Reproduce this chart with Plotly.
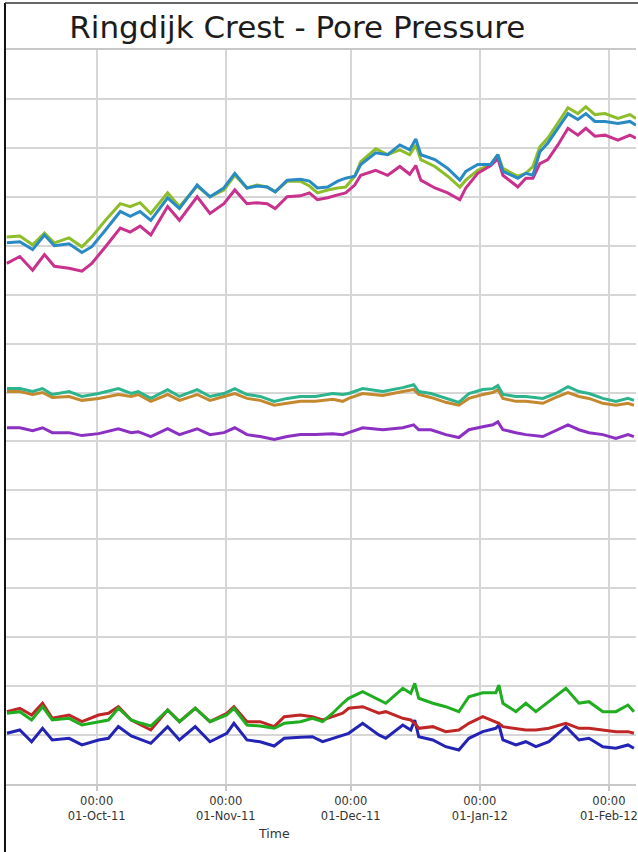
import plotly.graph_objects as go

# ---------------- data ----------------
top_dates = ["2011-09-09 10:00","2011-09-12 13:00","2011-09-15 15:00","2011-09-18 11:00","2011-09-20 20:00","2011-09-24 09:00","2011-09-27 11:00","2011-09-29 20:00",
 "2011-10-03 03:00","2011-10-06 16:00","2011-10-09 01:00","2011-10-11 10:00","2011-10-14 00:00","2011-10-18 01:00","2011-10-20 21:00","2011-10-25 03:00","2011-10-28 05:00","2011-10-31 13:00",
 "2011-11-03 04:00","2011-11-06 02:00","2011-11-08 12:00","2011-11-10 22:00","2011-11-12 21:00","2011-11-15 18:00","2011-11-18 22:00","2011-11-21 02:00","2011-11-23 00:00","2011-11-25 11:00","2011-11-27 21:00","2011-11-29 19:00",
 "2011-12-01 23:00","2011-12-03 10:00","2011-12-07 00:00","2011-12-09 21:00","2011-12-12 19:00","2011-12-15 04:00","2011-12-16 15:00","2011-12-17 20:00","2011-12-21 05:00","2011-12-24 07:00","2011-12-27 05:00","2011-12-28 15:00","2011-12-31 12:00",
 "2012-01-03 15:00","2012-01-05 08:00","2012-01-06 13:00","2012-01-10 03:00","2012-01-12 01:00","2012-01-13 18:00","2012-01-15 10:00","2012-01-17 08:00","2012-01-19 18:00","2012-01-22 04:00","2012-01-24 13:00","2012-01-26 11:00","2012-01-28 15:00","2012-01-31 01:00",
 "2012-02-03 04:00","2012-02-06 01:00","2012-02-07 12:00"]

top_green = [55.9,56.0,55.1,56.3,55.3,55.8,54.9,55.9,
 57.6,59.3,59.0,59.4,58.3,60.4,59.0,61.1,60.0,60.7,
 62.2,60.9,61.2,61.0,60.5,61.6,61.6,61.1,60.4,60.7,60.9,61.0,
 62.1,63.6,64.9,64.3,64.8,64.3,65.3,63.8,63.1,62.1,61.0,61.7,62.7,
 63.3,64.3,62.9,62.1,62.4,63.1,65.1,66.0,67.5,69.1,68.5,69.2,68.4,68.5,
 68.0,68.4,68.0]

top_blue = [55.3,55.4,54.6,56.1,55.0,55.2,54.3,54.9,
 56.6,58.5,58.0,58.5,57.6,59.9,58.8,61.2,60.0,60.9,
 62.4,60.9,61.1,61.0,60.5,61.7,61.8,61.6,60.9,61.0,61.6,61.9,
 62.1,63.3,64.5,64.3,65.3,64.8,65.9,64.3,63.8,62.9,61.7,62.6,63.3,
 63.3,64.3,62.6,61.9,62.4,62.2,64.6,65.5,67.0,68.5,67.9,68.5,67.7,67.7,
 67.5,67.7,67.3]

top_magenta = [53.2,53.9,52.5,54.1,52.9,52.7,52.4,53.2,
 54.9,56.8,56.4,57.0,56.1,59.0,57.6,60.0,58.3,59.3,
 60.7,59.3,59.4,59.3,58.8,60.0,60.1,60.4,59.7,59.9,60.2,60.4,
 61.2,62.2,62.7,62.2,63.1,62.3,63.2,61.7,60.9,60.4,59.7,60.9,62.4,
 63.2,63.9,62.2,61.0,61.9,61.9,63.4,63.8,65.3,67.0,66.3,67.0,66.2,66.3,
 65.8,66.3,66.0]

mid_dates = ["2011-09-09 11:00","2011-09-12 13:00","2011-09-15 15:00","2011-09-18 00:00","2011-09-20 08:00","2011-09-24 09:00","2011-09-27 11:00","2011-10-01 11:00","2011-10-06 05:00","2011-10-09 07:00","2011-10-10 23:00","2011-10-14 00:00","2011-10-18 01:00","2011-10-20 21:00","2011-10-25 03:00","2011-10-28 05:00","2011-10-31 13:00","2011-11-03 04:00","2011-11-06 02:00","2011-11-09 06:00","2011-11-12 15:00","2011-11-15 18:00","2011-11-18 22:00","2011-11-22 13:00",
 "2011-11-26 16:00","2011-11-29 02:00","2011-11-30 12:00","2011-12-03 21:00","2011-12-08 17:00","2011-12-13 12:00","2011-12-16 03:00","2011-12-17 08:00","2011-12-20 06:00","2011-12-23 20:00","2011-12-26 23:00","2011-12-29 09:00","2012-01-01 17:00","2012-01-04 03:00","2012-01-05 08:00","2012-01-06 13:00","2012-01-09 16:00","2012-01-12 01:00","2012-01-16 03:00","2012-01-19 06:00","2012-01-22 04:00","2012-01-24 19:00","2012-01-27 05:00","2012-01-30 13:00","2012-02-02 16:00","2012-02-05 14:00","2012-02-07 00:00"]

mid_teal = [40.4,40.4,40.1,40.4,39.8,40.1,39.6,39.9,40.4,39.9,40.1,39.4,40.3,39.6,40.3,39.6,39.9,40.4,39.8,39.6,39.1,39.4,39.6,39.6,
 39.9,39.8,39.9,40.4,40.1,40.5,40.8,40.1,39.9,39.4,39.0,39.9,40.3,40.4,40.7,39.8,39.6,39.6,39.4,39.9,40.6,40.1,39.9,39.4,39.1,39.4,39.2]

mid_brown = [40.1,40.1,39.8,40.0,39.5,39.6,39.2,39.4,39.8,39.6,39.8,39.1,39.8,39.2,39.8,39.2,39.6,39.9,39.4,39.2,38.7,38.9,39.1,39.1,
 39.3,39.1,39.4,39.9,39.7,40.1,40.3,39.8,39.5,39.0,38.7,39.4,39.8,40.0,40.3,39.4,39.1,39.1,38.9,39.5,40.0,39.6,39.4,38.9,38.7,38.9,38.7]

mid_purple = [36.4,36.4,36.1,36.4,35.9,35.9,35.6,35.8,36.3,35.9,36.0,35.5,36.3,35.7,36.3,35.7,35.9,36.4,35.7,35.5,35.2,35.5,35.7,35.7,
 35.8,35.7,35.9,36.4,36.2,36.4,36.7,36.2,36.2,35.7,35.4,36.2,36.5,36.7,37.0,36.2,35.9,35.7,35.5,36.1,36.7,36.2,35.9,35.7,35.3,35.7,35.5]

bot_dates = ["2011-09-09 11:00","2011-09-12 13:00","2011-09-15 09:00","2011-09-18 00:00","2011-09-20 08:00","2011-09-24 09:00","2011-09-27 11:00","2011-10-01 11:00","2011-10-03 20:00","2011-10-06 05:00","2011-10-09 07:00","2011-10-11 16:00","2011-10-14 00:00","2011-10-18 01:00","2011-10-20 21:00","2011-10-24 16:00","2011-10-28 05:00","2011-11-01 06:00","2011-11-02 23:00","2011-11-06 02:00","2011-11-09 06:00","2011-11-12 15:00","2011-11-15 01:00","2011-11-18 22:00","2011-11-21 19:00",
 "2011-11-24 06:00","2011-11-26 16:00","2011-11-29 02:00","2011-11-30 12:00","2011-12-03 21:00","2011-12-07 18:00","2011-12-09 10:00","2011-12-13 12:00","2011-12-15 10:00","2011-12-16 09:00","2011-12-17 08:00","2011-12-20 17:00","2011-12-23 20:00","2011-12-26 23:00","2011-12-29 09:00","2012-01-01 17:00","2012-01-04 20:00","2012-01-05 14:00","2012-01-06 13:00","2012-01-09 16:00","2012-01-12 01:00","2012-01-14 11:00","2012-01-17 14:00","2012-01-21 16:00","2012-01-24 19:00","2012-01-27 05:00","2012-01-30 13:00","2012-02-02 16:00","2012-02-05 14:00","2012-02-07 00:00"]

bot_red = [7.39,7.74,7.05,8.25,6.71,7.05,6.37,7.05,7.23,7.90,6.54,6.03,5.52,7.56,6.37,7.74,6.37,7.23,7.90,6.37,6.37,5.86,6.88,7.05,6.88,
 6.54,6.88,7.23,7.74,7.90,7.23,7.39,6.71,6.54,6.20,5.69,5.86,5.35,5.52,6.20,6.88,6.37,6.20,5.86,5.69,5.52,5.52,5.69,6.20,5.69,5.69,5.52,5.35,5.35,5.18]

bot_green = [7.23,7.39,6.54,7.90,6.54,6.71,6.03,6.37,6.54,7.74,6.54,6.20,5.93,7.56,6.37,7.74,6.37,7.05,7.74,6.03,5.93,5.69,6.20,6.37,6.71,
 6.37,7.23,8.25,8.76,9.43,8.58,8.25,9.78,9.27,10.29,8.76,8.25,7.90,7.39,8.92,9.33,9.33,10.12,8.25,7.39,8.25,7.39,8.41,9.78,8.25,8.41,7.39,7.39,8.07,7.39]

bot_blue = [5.18,5.52,4.32,5.69,4.50,4.67,3.99,4.50,4.67,5.86,4.91,4.50,4.16,5.86,4.50,5.86,4.32,5.18,6.20,4.50,4.32,3.88,4.67,4.77,4.83,
 4.32,4.67,5.01,5.18,6.20,5.01,4.67,6.03,5.52,6.54,4.83,4.50,3.81,3.47,4.67,5.35,5.69,6.03,4.50,3.99,4.32,3.81,4.32,5.86,4.50,4.67,3.81,3.65,3.99,3.65]

tick_dates = ["2011-10-01", "2011-11-01", "2011-12-01", "2012-01-01", "2012-02-01"]
tick_labels = ["00:00<br>01-Oct-11", "00:00<br>01-Nov-11", "00:00<br>01-Dec-11",
               "00:00<br>01-Jan-12", "00:00<br>01-Feb-12"]

# ---------------- figure ----------------
series = [
    (top_dates, top_green, "#8DBE2A"),
    (top_dates, top_magenta, "#C8318C"),
    (top_dates, top_blue, "#2A8AC4"),
    (mid_dates, mid_purple, "#8B30C2"),
    (mid_dates, mid_brown, "#C4882E"),
    (mid_dates, mid_teal, "#2DB48C"),
    (bot_dates, bot_blue, "#2323B5"),
    (bot_dates, bot_red, "#C02626"),
    (bot_dates, bot_green, "#20AD20"),
]

fig = go.Figure()
for xs, ys, col in series:
    fig.add_trace(go.Scatter(x=xs, y=ys, mode="lines",
                             line=dict(color=col, width=3), showlegend=False))

grid = "#d6d6d6"
fig.update_layout(
    width=638, height=852,
    paper_bgcolor="white", plot_bgcolor="white",
    margin=dict(l=6, r=0, t=50, b=68),
    title=dict(text="Ringdijk Crest - Pore Pressure", x=0.466, xanchor="center",
               y=0.968, yanchor="middle", xref="container", yref="container",
               font=dict(family="DejaVu Sans", size=31, color="#1c1c1c")),
    xaxis=dict(range=["2011-09-09 05:30", "2012-02-07 12:00"],
               tickvals=tick_dates, ticktext=tick_labels, ticklabeloverflow="allow",
               showgrid=True, gridcolor=grid, gridwidth=1.5,
               ticks="outside", ticklen=5, tickcolor="#c8c8c8", tickwidth=1.5,
               showline=True, linecolor="#c8c8c8", linewidth=1.5, mirror=True,
               tickfont=dict(family="DejaVu Sans", size=11.5, color="#333333"),
               zeroline=False),
    yaxis=dict(range=[0, 75], dtick=5, showticklabels=False,
               showgrid=True, gridcolor=grid, gridwidth=1.5, zeroline=False,
               showline=False, ticks=""),
    annotations=[dict(text="Time", xref="paper", yref="paper", x=0.4256, y=-0.0681,
                      xanchor="center", yanchor="middle", showarrow=False,
                      font=dict(family="DejaVu Sans", size=12.5, color="#333333"))],
    shapes=[
        dict(type="line", xref="paper", yref="paper", x0=-0.0016, x1=-0.0016,
             y0=-0.1, y1=1.064, line=dict(color="#111111", width=2)),
        dict(type="line", xref="paper", yref="paper", x0=-0.0016, x1=1.01,
             y0=1.064, y1=1.064, line=dict(color="#333333", width=1.5)),
    ],
)

fig.write_html("out.html", config={"displayModeBar": False})

# remove the browser's default body margin so the figure sits at the page origin
with open("out.html", "r", encoding="utf-8") as f:
    html = f.read()
html = html.replace("<head>", "<head><style>html,body{margin:0;padding:0;overflow:hidden;}</style>", 1)
with open("out.html", "w", encoding="utf-8") as f:
    f.write(html)
